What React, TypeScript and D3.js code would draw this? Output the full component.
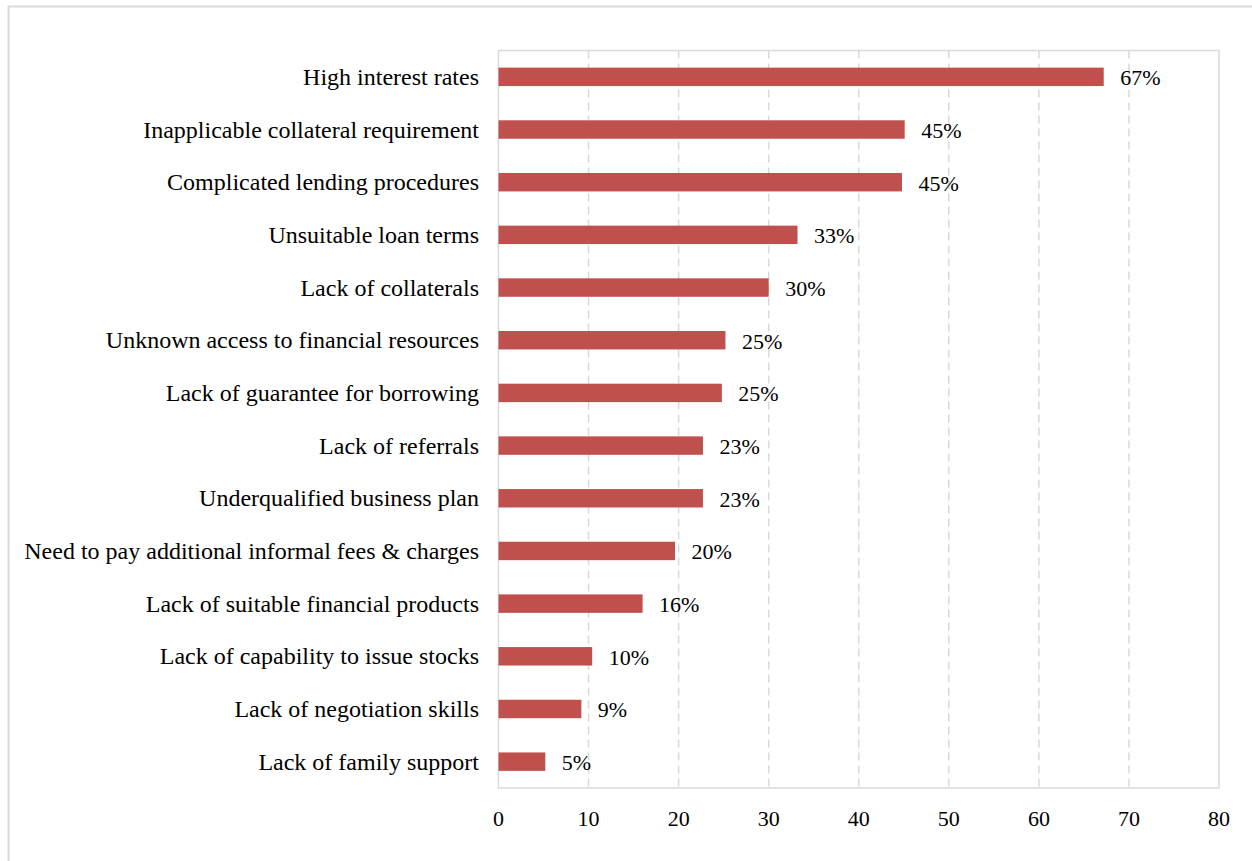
import React from "react";
import * as d3 from "d3";

const categories = [
  "High interest rates",
  "Inapplicable collateral requirement",
  "Complicated lending procedures",
  "Unsuitable loan terms",
  "Lack of collaterals",
  "Unknown access to financial resources",
  "Lack of guarantee for borrowing",
  "Lack of referrals",
  "Underqualified business plan",
  "Need to pay additional informal fees & charges",
  "Lack of suitable financial products",
  "Lack of capability to issue stocks",
  "Lack of negotiation skills",
  "Lack of family support",
];
const values = [67.2, 45.1, 44.8, 33.2, 30.0, 25.2, 24.8, 22.7, 22.7, 19.6, 16.0, 10.4, 9.2, 5.2];
const valueLabels = ["67%", "45%", "45%", "33%", "30%", "25%", "25%", "23%", "23%", "20%", "16%", "10%", "9%", "5%"];
const xTicks = [0, 10, 20, 30, 40, 50, 60, 70, 80];

export default function App() {
  const W = 1252, H = 861;
  const left = 498.5, right = 1219, top = 50.5, bottom = 788;
  const x = d3.scaleLinear().domain([0, 80]).range([left, right]);
  const y = d3.scaleBand<string>().domain(categories).range([top, bottom]).paddingInner(0.65).paddingOuter(0.325);
  const font = '"Liberation Serif", "Times New Roman", Times, serif';
  const grid = "#d9d9d9";
  return (
    <svg width={W} height={H} style={{ position: "absolute", left: 0, top: 0, fontFamily: font }}>
      <rect x={0} y={0} width={W} height={H} fill="#fff" />
      <rect x={8.5} y={6.5} width={1300} height={900} fill="none" stroke={grid} strokeWidth={2} />
      {xTicks.slice(1, -1).map((t) => (
        <line key={t} x1={x(t)} x2={x(t)} y1={top} y2={bottom} stroke={grid} strokeWidth={1.5} strokeDasharray="8,5" />
      ))}
      <rect x={left} y={top} width={right - left} height={bottom - top} fill="none" stroke={grid} strokeWidth={1.5} />
      {categories.map((c, i) => {
        const yc = (y(c) as number) + y.bandwidth() / 2;
        return (
          <g key={c}>
            <rect x={x(0)} y={y(c)} width={x(values[i]) - x(0)} height={y.bandwidth()} fill="#c0504d" />
            <text x={479} y={yc + 8} textAnchor="end" fontSize={24} fill="#000" style={{ fontFamily: font }}>{c}</text>
            <text x={x(values[i]) + 16.5} y={yc + 8.5} fontSize={22} fill="#000" style={{ fontFamily: font }}>{valueLabels[i]}</text>
          </g>
        );
      })}
      {xTicks.map((t) => (
        <text key={t} x={x(t)} y={825.5} textAnchor="middle" fontSize={22} fill="#000" style={{ fontFamily: font }}>{t}</text>
      ))}
    </svg>
  );
}
